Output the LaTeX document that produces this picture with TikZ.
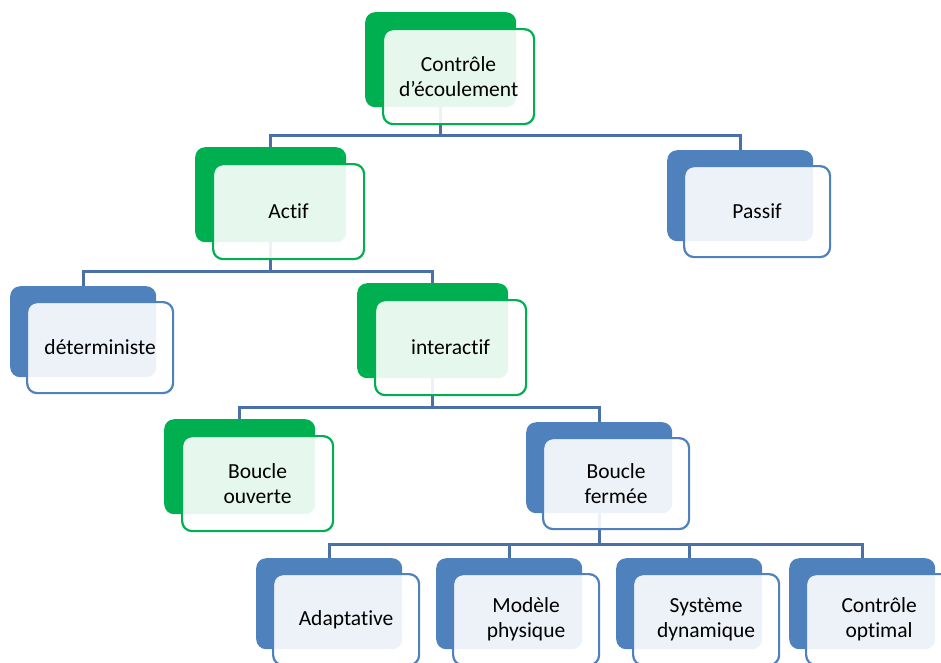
\documentclass[tikz,border=0pt]{standalone}
\usepackage{fontspec}
\setmainfont{Carlito}[RawFeature=-liga]
\usetikzlibrary{backgrounds}
\definecolor{sgreen}{RGB}{0,176,80}
\definecolor{sblue}{RGB}{79,129,189}
\definecolor{sline}{RGB}{74,112,168}
\tikzset{
  backbox/.style={anchor=north west, rounded corners=10pt, inner sep=0pt, draw=none},
  frontbox/.style={anchor=north west, rounded corners=10pt, inner sep=0pt, line width=2.2pt,
    fill=white, fill opacity=0.9, text opacity=1, draw opacity=1, align=center,
    font=\fontsize{21.5}{25}\selectfont},
  conn/.style={draw=sline, line width=3pt}
}
% green box: name, x, y, text
\newcommand\gbox[4]{%
  \node[backbox, fill=sgreen, minimum width=151pt, minimum height=95pt] (#1-b) at (#2,#3) {};
  \node[frontbox, draw=sgreen, minimum width=151pt, minimum height=95pt] (#1) at (#2+17,#3+16) {#4};
}
% blue box
\newcommand\bbox[4]{%
  \node[backbox, fill=sblue, minimum width=146pt, minimum height=91pt] (#1-b) at (#2,#3) {};
  \node[frontbox, draw=sblue, minimum width=146pt, minimum height=91pt] (#1) at (#2+16,#3+15) {#4};
}
\begin{document}
\begin{tikzpicture}[x=1pt, y=-1pt]
\useasboundingbox (0,0) rectangle (941,662);
\clip (0,0) rectangle (941,662);
\gbox{root}{365}{12}{Contrôle\\d’écoulement}
\gbox{actif}{195}{147}{Actif}
\bbox{passif}{667}{150}{Passif}
\bbox{determ}{10}{286}{déterministe}
\gbox{inter}{357}{283}{interactif}
\gbox{bouv}{164}{419}{Boucle\\ouverte}
\bbox{bferm}{526}{422}{Boucle\\fermée}
\bbox{adapt}{256}{558}{Adaptative}
\bbox{modele}{436}{558}{Modèle\\physique}
\bbox{systeme}{616}{558}{Système\\dynamique}
\bbox{copt}{789}{558}{Contrôle\\optimal}
\coordinate (bar1) at (0,135);
\coordinate (bar2) at (0,271);
\coordinate (bar3) at (0,407);
\coordinate (bar4) at (0,544);
\begin{scope}[on background layer]
  \fill[white] (0,0) rectangle (941,662);
  \foreach \c in {actif,passif}
    \draw[conn] (root-b.center) -- (root-b.center |- bar1) -| (\c-b.north);
  \foreach \c in {determ,inter}
    \draw[conn] (actif-b.center) -- (actif-b.center |- bar2) -| (\c-b.north);
  \foreach \c in {bouv,bferm}
    \draw[conn] (inter-b.center) -- (inter-b.center |- bar3) -| (\c-b.north);
  \foreach \c in {adapt,modele,systeme,copt}
    \draw[conn] (bferm-b.center) -- (bferm-b.center |- bar4) -| (\c-b.north);
\end{scope}
\end{tikzpicture}
\end{document}
